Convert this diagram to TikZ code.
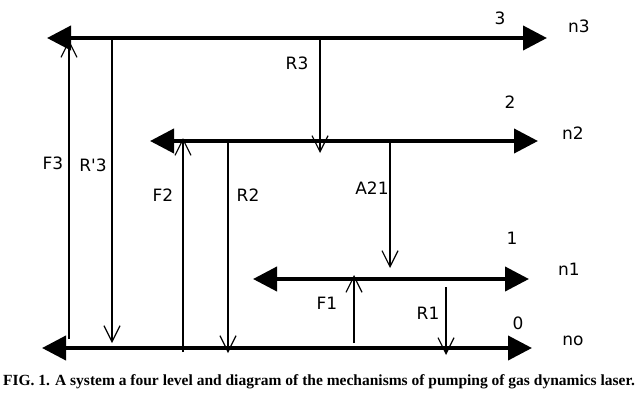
\documentclass[tikz,border=0pt]{standalone}
\usepackage{fontspec}
\setmainfont{Liberation Serif}
\newfontfamily\labelfont{DejaVu Sans}
\usetikzlibrary{arrows.meta}

\begin{document}
\begin{tikzpicture}[x=1pt, y=-1pt,
        level/.style={line width=4pt, {Triangle[length=24pt, width=24pt]}-{Triangle[length=24pt, width=24pt]}},
        trans/.style={line width=1.4pt, -{Straight Barb[length=16pt, width=16pt, line width=1.2pt]}},
        lbl/.style={font=\labelfont\fontsize{17}{19}\selectfont, inner sep=0pt},
        caption/.style={font=\bfseries\fontsize{15.5}{17}\selectfont, inner sep=0pt}
    ]
    \useasboundingbox (0,0) rectangle (638,402);

    % Level end points
    \coordinate (l3w) at (47,38);
    \coordinate (l3e) at (547,38);
    \coordinate (l2w) at (150,141);
    \coordinate (l2e) at (538,141);
    \coordinate (l1w) at (253,279);
    \coordinate (l1e) at (529,279);
    \coordinate (l0w) at (42,348);
    \coordinate (l0e) at (532,348);

    % Levels
    \draw[level] (l3e) -- (l3w);
    \draw[level] (l2e) -- (l2w);
    \draw[level] (l1e) -- (l1w);
    \draw[level] (l0e) -- (l0w);

    % Transition end points
    \coordinate (f3a) at (69,339);
    \coordinate (f3b) at (69,40);
    \coordinate (r3pa) at (112,38);
    \coordinate (r3pb) at (112,343);
    \coordinate (r3a) at (320,38);
    \coordinate (r3b) at (320,153);
    \coordinate (f2a) at (183,352);
    \coordinate (f2b) at (183,138);
    \coordinate (r2a) at (228,141);
    \coordinate (r2b) at (228,353);
    \coordinate (a21a) at (390,141);
    \coordinate (a21b) at (390,268);
    \coordinate (f1a) at (354,343);
    \coordinate (f1b) at (354,275);
    \coordinate (r1a) at (446,287);
    \coordinate (r1b) at (446,355);

    % Transitions
    \draw[trans] (f3a) -- (f3b);
    \draw[trans] (r3pa) -- (r3pb);
    \draw[trans] (r3a) -- (r3b);
    \draw[trans] (f2a) -- (f2b);
    \draw[trans] (r2a) -- (r2b);
    \draw[trans] (a21a) -- (a21b);
    \draw[trans] (f1a) -- (f1b);
    \draw[trans] (r1a) -- (r1b);

    % Labels
    \node[lbl] (num3) at (500,18) {3};
    \node[lbl] (n3) at (579,26) {n3};
    \node[lbl] (num2) at (510,102) {2};
    \node[lbl] (n2) at (573,133) {n2};
    \node[lbl] (num1) at (512,238) {1};
    \node[lbl] (n1) at (569,269) {n1};
    \node[lbl] (num0) at (518,323) {0};
    \node[lbl] (n0) at (573,341) {no};
    \node[lbl] (R3) at (297,63) {R3};
    \node[lbl] (F3) at (53,163) {F3};
    \node[lbl] (R3p) at (93,165) {R'3};
    \node[lbl] (F2) at (163,195) {F2};
    \node[lbl] (R2) at (248,195) {R2};
    \node[lbl] (A21) at (372,188) {A21};
    \node[lbl] (F1) at (327,303) {F1};
    \node[lbl] (R1) at (428,313) {R1};

    % Caption
    \node[caption] (cap) at (319,382) {FIG. 1. A system a four level and diagram of the mechanisms of pumping of gas dynamics laser.};
\end{tikzpicture}
\end{document}
